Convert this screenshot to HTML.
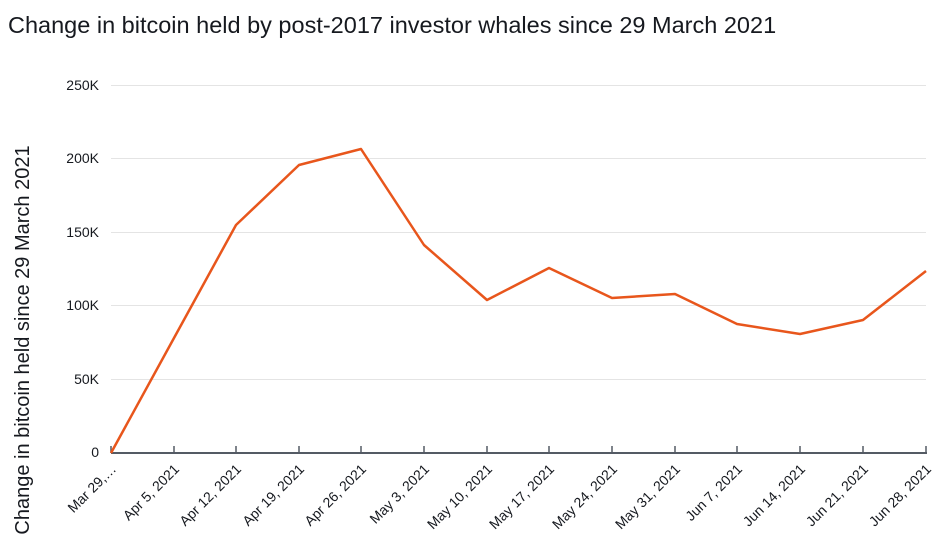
<!DOCTYPE html>
<html><head><style>body{margin:0;background:#fff}svg{display:block}</style></head><body>
<svg width="940" height="546" xmlns="http://www.w3.org/2000/svg" font-family="Liberation Sans, sans-serif">
<text x="8" y="33" font-size="23.5" fill="#16191f">Change in bitcoin held by post-2017 investor whales since 29 March 2021</text>
<g stroke="#e4e4e4" stroke-width="1">
<line x1="111" x2="926" y1="85.5" y2="85.5"/><line x1="111" x2="926" y1="158.5" y2="158.5"/>
<line x1="111" x2="926" y1="232.5" y2="232.5"/><line x1="111" x2="926" y1="305.5" y2="305.5"/>
<line x1="111" x2="926" y1="379.5" y2="379.5"/></g>
<g font-size="14" fill="#16191f" text-anchor="end">
<text x="99" y="90">250K</text><text x="99" y="163">200K</text><text x="99" y="237">150K</text>
<text x="99" y="310">100K</text><text x="99" y="384">50K</text><text x="99" y="457">0</text></g>
<text transform="translate(29,340) rotate(-90)" font-size="20" fill="#16191f" text-anchor="middle">Change in bitcoin held since 29 March 2021</text>
<line x1="111" x2="927" y1="453" y2="453" stroke="#545b64" stroke-width="2"/>
<g stroke="#545b64" stroke-width="1.5">
<line x1="111" x2="111" y1="446" y2="453"/><line x1="174" x2="174" y1="446" y2="453"/><line x1="236" x2="236" y1="446" y2="453"/><line x1="299" x2="299" y1="446" y2="453"/><line x1="361" x2="361" y1="446" y2="453"/><line x1="424" x2="424" y1="446" y2="453"/><line x1="487" x2="487" y1="446" y2="453"/><line x1="549" x2="549" y1="446" y2="453"/><line x1="612" x2="612" y1="446" y2="453"/><line x1="675" x2="675" y1="446" y2="453"/><line x1="737" x2="737" y1="446" y2="453"/><line x1="800" x2="800" y1="446" y2="453"/><line x1="863" x2="863" y1="446" y2="453"/><line x1="926" x2="926" y1="446" y2="453"/></g>
<g font-size="14" fill="#16191f" text-anchor="end">
<text transform="translate(117,470) rotate(-45)">Mar 29,…</text>
<text transform="translate(180,470) rotate(-45)">Apr 5, 2021</text>
<text transform="translate(242,470) rotate(-45)">Apr 12, 2021</text>
<text transform="translate(305,470) rotate(-45)">Apr 19, 2021</text>
<text transform="translate(367,470) rotate(-45)">Apr 26, 2021</text>
<text transform="translate(430,470) rotate(-45)">May 3, 2021</text>
<text transform="translate(493,470) rotate(-45)">May 10, 2021</text>
<text transform="translate(555,470) rotate(-45)">May 17, 2021</text>
<text transform="translate(618,470) rotate(-45)">May 24, 2021</text>
<text transform="translate(681,470) rotate(-45)">May 31, 2021</text>
<text transform="translate(743,470) rotate(-45)">Jun 7, 2021</text>
<text transform="translate(806,470) rotate(-45)">Jun 14, 2021</text>
<text transform="translate(869,470) rotate(-45)">Jun 21, 2021</text>
<text transform="translate(932,470) rotate(-45)">Jun 28, 2021</text></g>
<polyline fill="none" stroke="#e8561c" stroke-width="2.5" stroke-linejoin="round" points="111,453 174,338 236,225 299,165 361,149 424,245 487,300 549,268 612,298 675,294 737,324 800,334 863,320 926,271"/>
</svg></body></html>
